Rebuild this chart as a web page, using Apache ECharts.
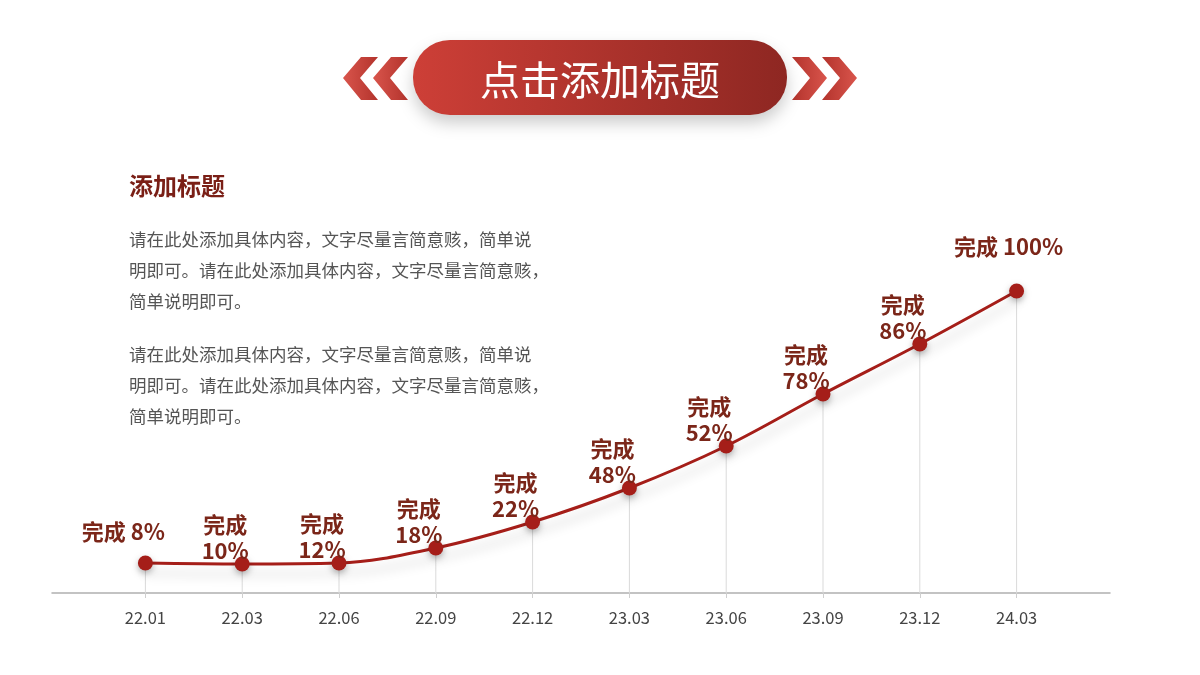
<!DOCTYPE html>
<html>
<head>
<meta charset="utf-8">
<title>点击添加标题</title>
<script src="https://cdn.jsdelivr.net/npm/echarts@6/dist/echarts.min.js"></script>
<style>
	html, body {margin: 0; padding: 0; background: #fff;}
	#main {width: 1200px; height: 675px;}
</style>
</head>
<body>
<div id="main"></div>
<script>
var categories = ['22.01', '22.03', '22.06', '22.09', '22.12', '23.03', '23.06', '23.09', '23.12', '24.03']
// 完成百分比（标签文字）
var percents = [8, 10, 12, 18, 22, 48, 52, 78, 86, 100]
// 图中点的实际高度（从图上量取）
var heights = [30, 29, 30, 45, 71, 105, 147, 199, 249, 302]

var titleText = '点击添加标题'
var subTitle = '添加标题'
var paragraph = '请在此处添加具体内容，文字尽量言简意赅，简单说\n明即可。请在此处添加具体内容，文字尽量言简意赅，\n简单说明即可。'

var font = '"Noto Sans CJK SC", "Noto Sans", sans-serif'

var chart = echarts.init(document.getElementById('main'))

//箭头
function chevron(tipX, dir, colors) {
	var w = 18 * dir, t = 17 * dir
	return {
		type: 'polygon',
		shape: {points: [[tipX, 78], [tipX + w, 57], [tipX + w + t, 57], [tipX + t, 78], [tipX + w + t, 100], [tipX + w, 100]]},
		style: {fill: new echarts.graphic.LinearGradient(0, 0, 1, 0, colors)}
	}
}

var leftColors = [{offset: 0, color: '#d9554c'}, {offset: 1, color: '#b3332c'}]
var rightColors = [{offset: 0, color: '#b3332c'}, {offset: 1, color: '#d9554c'}]

//标签数据
var lineData = heights.map(function(h, i) {
	var single = i == 0 || i == heights.length - 1
	return {
		value: h,
		label: {
			formatter: single ? '完成 ' + percents[i] + '%' : '完成\n' + percents[i] + '%',
			offset: i == 0 ? [-22, -6] : (i == heights.length - 1 ? [-8, -19] : [-17, 12])
		}
	}
})

var option = {
	animation: false,
	textStyle: {fontFamily: font},
	grid: [
		{left: 97, right: 135, top: 193, bottom: 82},
		{left: 52, right: 90, top: 193, bottom: 82}
	],
	xAxis: [{
		type: 'category',
		gridIndex: 0,
		data: categories,
		boundaryGap: true,
		axisLine: {show: false},
		axisTick: {show: true, alignWithLabel: true, length: 5, lineStyle: {color: '#cfcfcf'}},
		axisLabel: {color: '#444', fontSize: 16.5, margin: 16, fontFamily: font},
		splitLine: {show: false}
	}, {
		type: 'value',
		gridIndex: 1,
		min: 0,
		max: 1,
		axisLine: {show: true, onZero: false, lineStyle: {color: '#b0b0b0', width: 1.5}},
		axisTick: {show: false},
		axisLabel: {show: false},
		splitLine: {show: false}
	}],
	yAxis: [
		{type: 'value', gridIndex: 0, min: 0, max: 400, show: false},
		{type: 'value', gridIndex: 1, min: 0, max: 1, show: false}
	],
	series: [{
		//竖线
		type: 'bar',
		xAxisIndex: 0,
		yAxisIndex: 0,
		data: heights,
		barWidth: 1,
		silent: true,
		itemStyle: {color: '#dadada'},
		z: 1
	}, {
		type: 'line',
		xAxisIndex: 0,
		yAxisIndex: 0,
		data: lineData,
		smooth: 0.35,
		symbol: 'circle',
		symbolSize: 15,
		itemStyle: {color: '#a51e19', shadowColor: 'rgba(0,0,0,0.3)', shadowBlur: 6, shadowOffsetY: 3},
		lineStyle: {color: '#a51e19', width: 3, shadowColor: 'rgba(0,0,0,0.18)', shadowBlur: 12, shadowOffsetY: 10},
		label: {
			show: true,
			position: 'top',
			color: '#7b2619',
			fontSize: 22,
			fontWeight: 'bold',
			lineHeight: 26,
			align: 'center',
			fontFamily: font
		},
		z: 3
	}],
	graphic: [
		chevron(343, 1, leftColors),
		chevron(373, 1, leftColors),
		chevron(857, -1, rightColors),
		chevron(827, -1, rightColors),
		{
			type: 'rect',
			shape: {x: 413, y: 40, width: 374, height: 75, r: 37},
			style: {
				fill: new echarts.graphic.LinearGradient(0, 0, 1, 0, [
					{offset: 0, color: '#cd3f37'},
					{offset: 1, color: '#8e2722'}
				]),
				shadowColor: 'rgba(0,0,0,0.2)',
				shadowBlur: 16,
				shadowOffsetY: 8
			}
		},
		{
			type: 'text',
			x: 600,
			y: 80,
			style: {text: titleText, fill: '#fff', fontSize: 40, fontFamily: font, align: 'center', verticalAlign: 'middle'}
		},
		{
			type: 'text',
			x: 129,
			y: 186,
			style: {text: subTitle, fill: '#7a1f16', fontSize: 24, fontWeight: 'bold', fontFamily: font, verticalAlign: 'middle'}
		},
		{
			type: 'text',
			x: 129,
			y: 224,
			style: {text: paragraph, fill: '#555', fontSize: 17.5, lineHeight: 31, fontFamily: font}
		},
		{
			type: 'text',
			x: 129,
			y: 339,
			style: {text: paragraph, fill: '#555', fontSize: 17.5, lineHeight: 31, fontFamily: font}
		}
	]
}

chart.setOption(option)
</script>
</body>
</html>
